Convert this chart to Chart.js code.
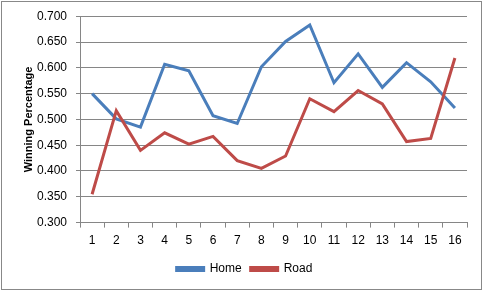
<!DOCTYPE html>
<html>
<head>
<meta charset="utf-8">
<script src="https://cdn.jsdelivr.net/npm/chart.js@4/dist/chart.umd.min.js"></script>
<style>
html,body{margin:0;padding:0;background:#fff;}
#wrap{position:relative;width:483px;height:291px;}
</style>
</head>
<body>
<div id="wrap"><canvas id="c" width="483" height="291"></canvas></div>
<script>
const categories = ['1','2','3','4','5','6','7','8','9','10','11','12','13','14','15','16'];
const homeValues = [0.550,0.501,0.485,0.607,0.594,0.507,0.492,0.602,0.651,0.683,0.571,0.627,0.562,0.610,0.573,0.522];
const roadValues = [0.355,0.517,0.440,0.474,0.452,0.467,0.420,0.405,0.429,0.540,0.515,0.556,0.530,0.457,0.463,0.619];
const seriesNames = ['Home','Road'];
const yTitle = 'Winning Percentage';

const borderPlugin = {
  id: 'outerBorder',
  beforeDraw(chart) {
    const ctx = chart.ctx;
    ctx.save();
    ctx.fillStyle = '#ffffff';
    ctx.fillRect(0, 0, chart.width, chart.height);
    ctx.restore();
  },
  afterDraw(chart) {
    const ctx = chart.ctx;
    ctx.save();
    ctx.strokeStyle = '#888888';
    ctx.lineWidth = 1;
    ctx.strokeRect(1.5, 1.5, chart.width - 3, chart.height - 3);
    ctx.restore();
  }
};

new Chart(document.getElementById('c'), {
  type: 'line',
  data: {
    labels: categories,
    datasets: [
      {label: seriesNames[0], data: homeValues, borderColor: '#4A7EBB', backgroundColor: '#4A7EBB', borderWidth: 3, pointRadius: 0, tension: 0, order: 1},
      {label: seriesNames[1], data: roadValues, borderColor: '#BE4B48', backgroundColor: '#BE4B48', borderWidth: 3, pointRadius: 0, tension: 0, order: 0}
    ]
  },
  options: {
    responsive: false,
    animation: false,
    devicePixelRatio: 1,
    layout: {padding: {top: 7, right: 16, bottom: 6, left: 22}},
    plugins: {
      legend: {
        position: 'bottom',
        labels: {
          boxWidth: 27, boxHeight: 3, padding: 9,
          color: '#000', font: {family: 'Liberation Sans', size: 12},
          sort: (a, b) => a.datasetIndex - b.datasetIndex
        }
      },
      tooltip: {enabled: false}
    },
    scales: {
      x: {
        type: 'category',
        offset: true,
        grid: {offset: true, drawOnChartArea: false, drawTicks: true, tickLength: 5, color: '#868686'},
        border: {color: '#868686'},
        ticks: {color: '#000', font: {family: 'Liberation Sans', size: 12}, padding: 6, maxRotation: 0, autoSkip: false}
      },
      y: {
        min: 0.3, max: 0.7,
        grid: {color: '#868686', tickLength: 4},
        border: {color: '#868686'},
        ticks: {stepSize: 0.05, color: '#000', font: {family: 'Liberation Sans', size: 12}, padding: 9,
          callback: v => v.toFixed(3)},
        title: {display: true, text: yTitle, color: '#000', font: {family: 'Liberation Sans', size: 11, weight: 'bold'}, padding: {top: 0, bottom: 2}},
        afterFit(scale) { scale.width = 58; }
      }
    }
  },
  plugins: [borderPlugin]
});
</script>
</body>
</html>
